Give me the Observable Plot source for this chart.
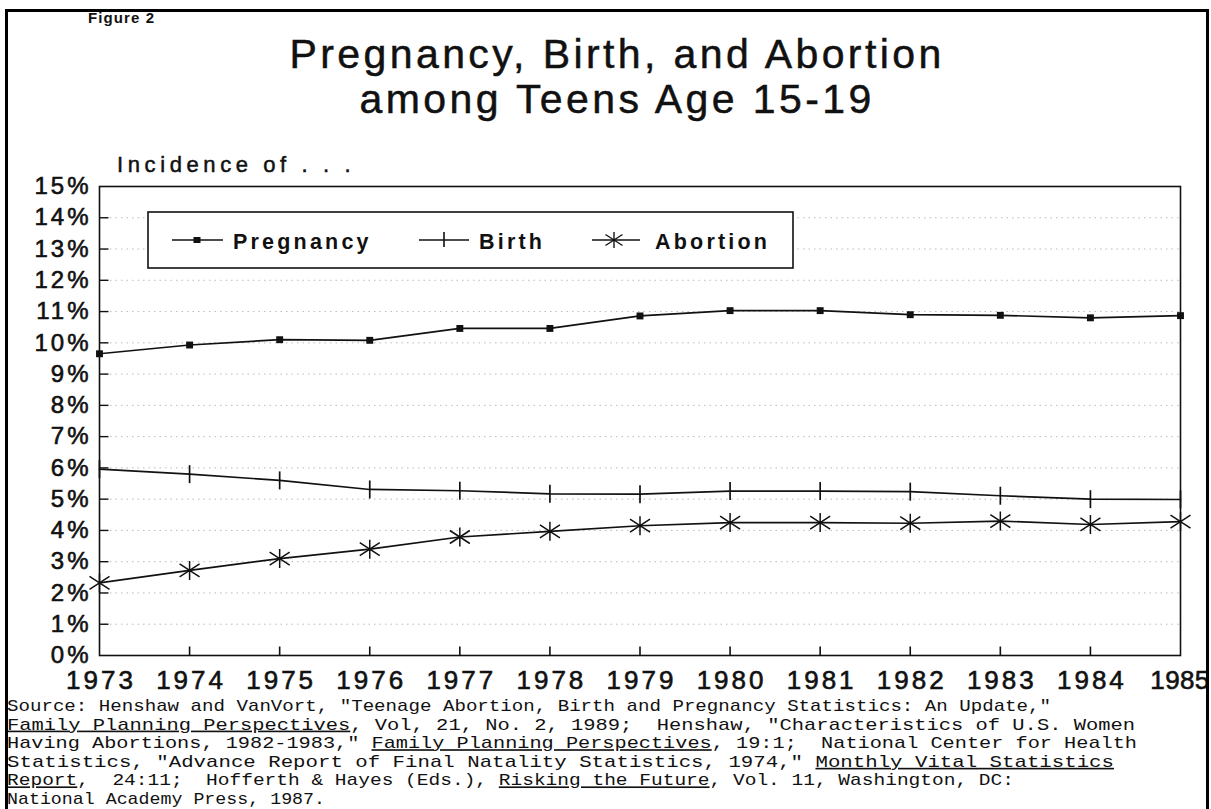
<!DOCTYPE html>
<html><head><meta charset="utf-8">
<script src="https://cdn.jsdelivr.net/npm/d3@7"></script>
<script src="https://cdn.jsdelivr.net/npm/@observablehq/plot@0.6"></script>
<style>
html,body{margin:0;padding:0;background:#fff;width:1211px;height:809px;overflow:hidden;}
#page{position:relative;width:1211px;height:809px;overflow:hidden;background:#fff;}
#chart{position:absolute;left:0;top:160px;}
#overlay{position:absolute;left:0;top:0;}
#border{position:absolute;left:5px;top:9px;width:1204px;height:900px;border:3px solid #000;box-sizing:border-box;}
text{white-space:pre;}
</style></head>
<body><div id="page"><div id="chart"></div><svg id="overlay" width="1211" height="809"></svg><div id="border"></div></div>
<script>
// ---- data ----
const years = [1973,1974,1975,1976,1977,1978,1979,1980,1981,1982,1983,1984,1985];
const pregnancy = [9.65, 9.93, 10.1, 10.08, 10.46, 10.46, 10.86, 11.03, 11.03, 10.9, 10.88, 10.8, 10.87];
const birth     = [5.96, 5.8, 5.6, 5.31, 5.27, 5.17, 5.16, 5.26, 5.26, 5.24, 5.11, 5.0, 4.99];
const abortion  = [2.32, 2.72, 3.1, 3.4, 3.79, 3.97, 4.15, 4.25, 4.25, 4.23, 4.3, 4.19, 4.28];
const seriesNames = ["Pregnancy","Birth","Abortion"];
const yTicks = [0,1,2,3,4,5,6,7,8,9,10,11,12,13,14,15];
const xTickLabels = years.map(String);
const titleLines = ["Pregnancy, Birth, and Abortion","among Teens Age 15-19"];
const yAxisTitle = "Incidence of . . .";
const figureLabel = "Figure 2";
const captionLines = [
  [["Source: Henshaw and VanVort, \"Teenage Abortion, Birth and Pregnancy Statistics: An Update,\"",0]],
  [["Family Planning Perspectives",1],[", Vol, 21, No. 2, 1989;  Henshaw, \"Characteristics of U.S. Women",0]],
  [["Having Abortions, 1982-1983,\" ",0],["Family Planning Perspectives",1],[", 19:1;  National Center for Health",0]],
  [["Statistics, \"Advance Report of Final Natality Statistics, 1974,\" ",0],["Monthly Vital Statistics",1]],
  [["Report",1],[",  24:11;  Hofferth & Hayes (Eds.), ",0],["Risking the Future",1],[", Vol. 11, Washington, DC:",0]],
  [["National Academy Press, 1987.",0]]
];
const captionWidths = [1044, 1128, 1130, 1107, 1007, 318];

const table = [];
years.forEach((yr,i)=>{
  table.push({year:yr, series:"Pregnancy", value:pregnancy[i]});
  table.push({year:yr, series:"Birth", value:birth[i]});
  table.push({year:yr, series:"Abortion", value:abortion[i]});
});

// ---- symbols ----
const vTick = {draw(ctx){ctx.moveTo(0,-9);ctx.lineTo(0,9);}};
const aster = {draw(ctx){
  ctx.moveTo(0,-9.5);ctx.lineTo(0,9.5);
  ctx.moveTo(-10,-6.5);ctx.lineTo(10,6.5);
  ctx.moveTo(-10,6.5);ctx.lineTo(10,-6.5);
}};
const yTickSym = {draw(ctx){ctx.moveTo(0,0);ctx.lineTo(9,0);}};
const xTickSym = {draw(ctx){ctx.moveTo(0,0);ctx.lineTo(0,-9);}};

const ink = "#111";
const chart = Plot.plot({
  width:1211, height:545,
  marginLeft:99, marginRight:31, marginTop:26, marginBottom:50,
  x:{domain:[years[0], years[years.length-1]]},
  y:{domain:[yTicks[0], yTicks[yTicks.length-1]]},
  style:{fontFamily:"'Liberation Sans', Arial, sans-serif", color:ink, background:"transparent"},
  marks:[
    Plot.gridY(yTicks.slice(1,-1), {stroke:"#777", strokeOpacity:0.5, strokeDasharray:"1.5,4", strokeWidth:1}),
    Plot.dot(yTicks.slice(1,-1), {x:()=>years[0], y:d=>d, symbol:yTickSym, stroke:ink, fill:"none", strokeWidth:1.4}),
    Plot.dot(years.slice(1,-1), {x:d=>d, y:()=>yTicks[0], symbol:xTickSym, stroke:ink, fill:"none", strokeWidth:1.6}),
    Plot.frame({stroke:ink, strokeWidth:1.6}),
    Plot.axisY(yTicks, {tickSize:0, tickPadding:8, tickFormat:d=>d+"%", fontSize:24, label:null}),
    Plot.axisX(years, {tickSize:0, tickPadding:15, tickFormat:d=>xTickLabels[years.indexOf(d)], fontSize:26, label:null}),
    Plot.line(table, {x:"year", y:"value", z:"series", stroke:ink, strokeWidth:1.7}),
    Plot.dot(table.filter(d=>d.series==="Pregnancy"), {x:"year", y:"value", symbol:"square", r:3.9, fill:ink}),
    Plot.dot(table.filter(d=>d.series==="Birth"), {x:"year", y:"value", symbol:vTick, stroke:ink, fill:"none", strokeWidth:1.7}),
    Plot.dot(table.filter(d=>d.series==="Abortion"), {x:"year", y:"value", symbol:aster, stroke:ink, fill:"none", strokeWidth:1.5})
  ]
});
document.getElementById("chart").appendChild(chart);
const cs = d3.select(chart);
cs.selectAll("[aria-label='y-axis tick label'] text").attr("letter-spacing","3").attr("stroke",ink).attr("stroke-width","0.6");
const xt = cs.selectAll("[aria-label='x-axis tick label'] text").attr("letter-spacing","3").attr("dx","1.5").attr("stroke",ink).attr("stroke-width","0.6");
// the last year label sits against the page edge: tighten it so it stays fully visible
xt.filter(function(){ return this.textContent === xTickLabels[xTickLabels.length-1]; })
  .attr("letter-spacing","0.4").attr("dx","-0.5");

// ---- overlay texts & legend ----
const ov = d3.select("#overlay");
const sans = "'Liberation Sans', Arial, sans-serif";
ov.append("text").attr("x",88).attr("y",23).attr("font-family",sans).attr("font-weight","bold")
  .attr("font-size",15).attr("letter-spacing",1.1).attr("fill",ink).text(figureLabel);
titleLines.forEach((t,i)=>{
  ov.append("text").attr("x",615.5+1.6).attr("y",68+45*i).attr("text-anchor","middle")
    .attr("font-family",sans).attr("font-size",41).attr("letter-spacing",3.4).attr("fill",ink)
    .attr("stroke",ink).attr("stroke-width",0.5).text(t);
});
ov.append("text").attr("x",117).attr("y",172).attr("font-family",sans).attr("font-size",22)
  .attr("letter-spacing",4.6).attr("fill",ink).attr("stroke",ink).attr("stroke-width",0.5).text(yAxisTitle);

// legend
const lg = ov.append("g");
lg.append("rect").attr("x",148).attr("y",212).attr("width",645).attr("height",56)
  .attr("fill","#fff").attr("stroke",ink).attr("stroke-width",1.6);
const legendItems = [
  {name:seriesNames[0], x1:172, x2:223, mx:197, tx:233, sym:"square"},
  {name:seriesNames[1], x1:419, x2:469, mx:444, tx:479, sym:"tick"},
  {name:seriesNames[2], x1:592, x2:640, mx:614, tx:655, sym:"aster"}
];
const ly = 240;
legendItems.forEach(it=>{
  lg.append("line").attr("x1",it.x1).attr("x2",it.x2).attr("y1",ly).attr("y2",ly).attr("stroke",ink).attr("stroke-width",1.6);
  if(it.sym==="square"){
    lg.append("rect").attr("x",it.mx-3.5).attr("y",ly-3).attr("width",7).attr("height",6).attr("fill",ink);
  } else if(it.sym==="tick"){
    lg.append("line").attr("x1",it.mx).attr("x2",it.mx).attr("y1",ly-8).attr("y2",ly+7).attr("stroke",ink).attr("stroke-width",1.6);
  } else {
    const p = d3.path(); aster.draw(p);
    lg.append("path").attr("d",p.toString()).attr("transform",`translate(${it.mx},${ly}) scale(0.85)`).attr("stroke",ink).attr("fill","none").attr("stroke-width",1.6);
  }
  lg.append("text").attr("x",it.tx).attr("y",249).attr("font-family",sans).attr("font-weight","bold")
    .attr("font-size",21.5).attr("letter-spacing",3.2).attr("fill",ink).text(it.name);
});

// caption
captionLines.forEach((parts,i)=>{
  const t = ov.append("text").attr("x",7).attr("y",711+18.6*i)
    .attr("font-family","'Liberation Mono', 'DejaVu Sans Mono', monospace").attr("font-size",16.4).attr("fill",ink)
    .attr("textLength",captionWidths[i]).attr("lengthAdjust","spacingAndGlyphs");
  parts.forEach(([s,u])=>{
    const ts = t.append("tspan").text(s);
    if(u) ts.attr("text-decoration","underline");
  });
});
</script>
</body></html>
